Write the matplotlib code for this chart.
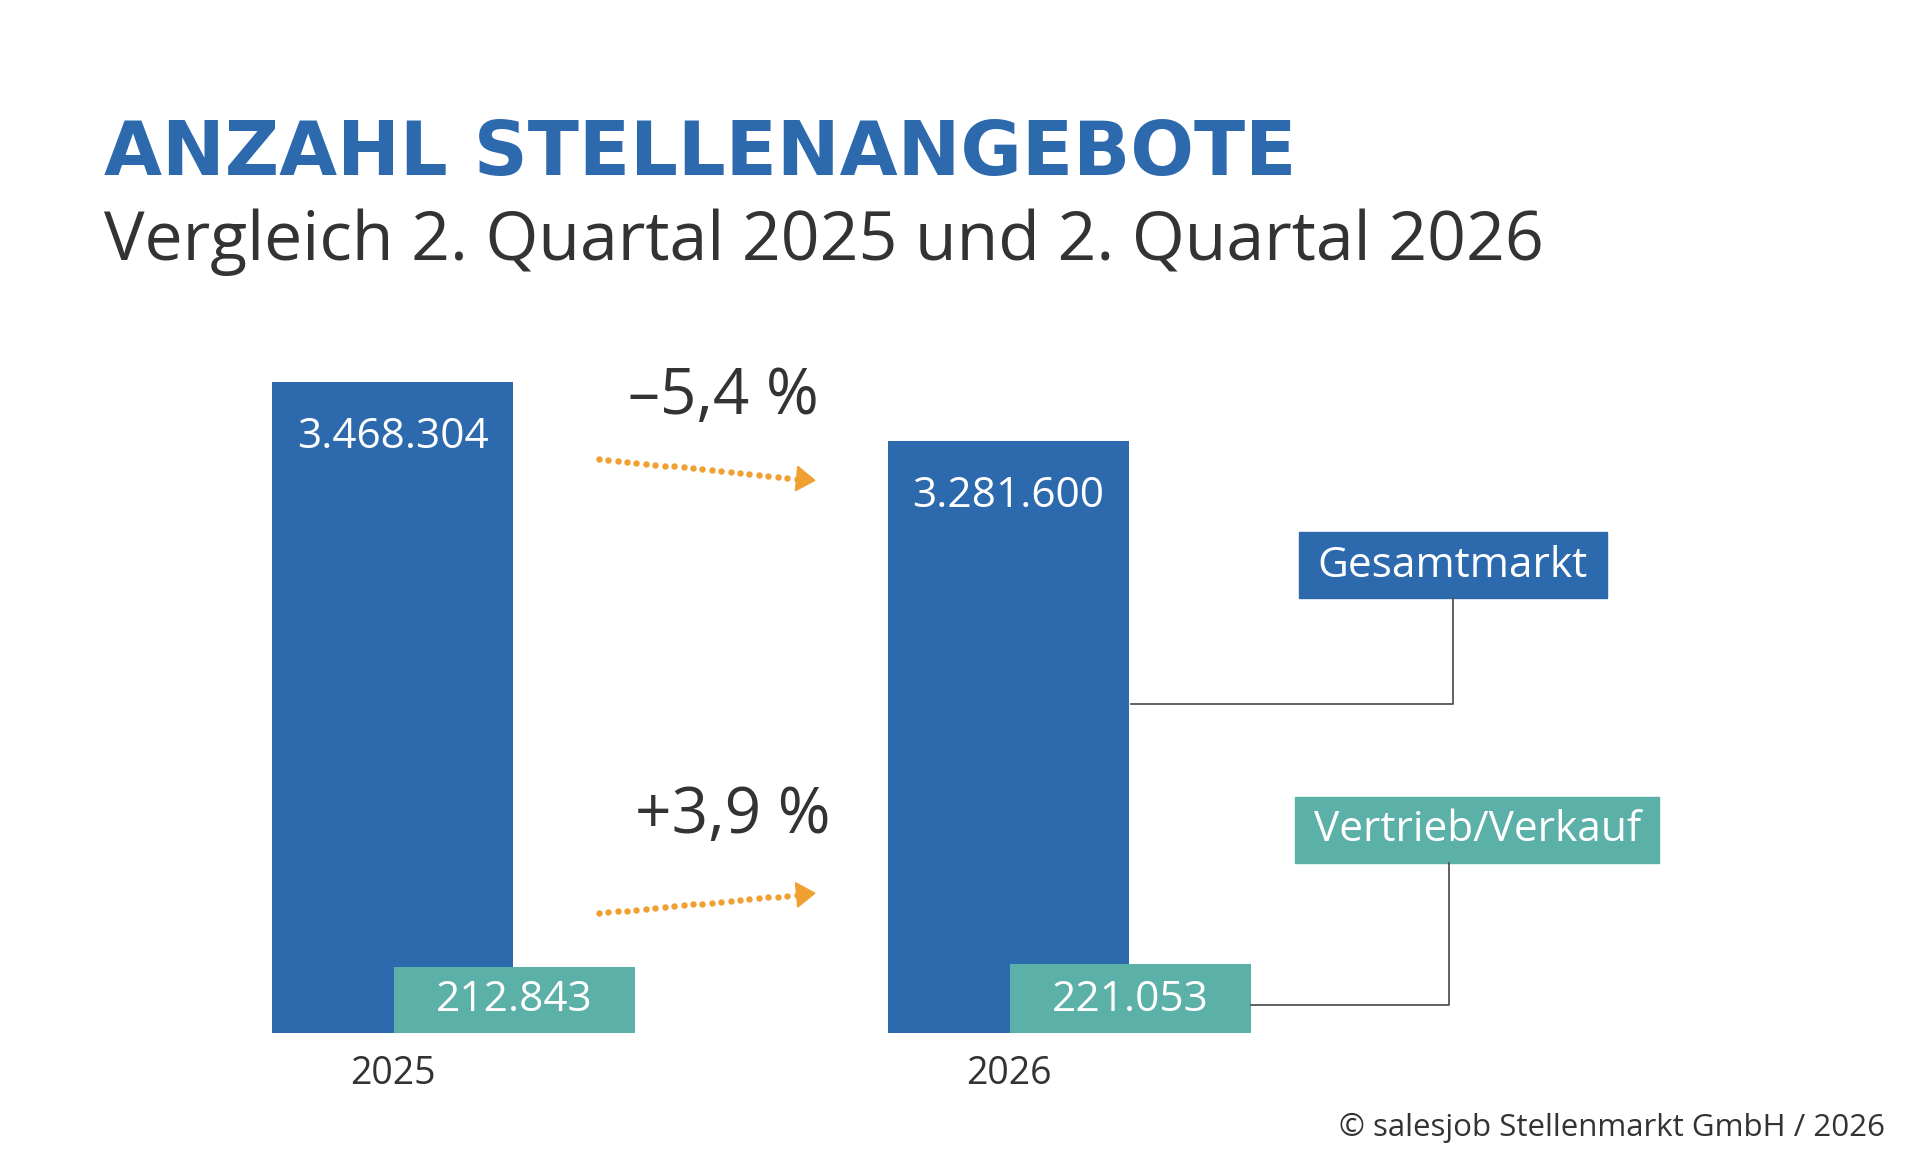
import matplotlib
matplotlib.use("Agg")
import matplotlib.pyplot as plt
from matplotlib.patches import Rectangle, Polygon
import numpy as np

years = ["2025", "2026"]
gesamt = [3468304, 3281600]
vertrieb = [212843, 221053]
gesamt_labels = ["3.468.304", "3.281.600"]
vertrieb_labels = ["212.843", "221.053"]
changes = ["\u20135,4 %", "+3,9 %"]

BLUE = "#2d6aad"; GREEN = "#5bb0a8"; ORANGE = "#f0a030"; DARK = "#333333"
FONT = "Open Sans"
W, H = 1560, 960
fig = plt.figure(figsize=(19.06, 11.72), dpi=100)
fx = lambda x: x / W
fy = lambda y: 1 - y / H

base = 1.393e6
axb = fig.add_axes([0, fy(846), 1, (846 - 313) / H])
axb.set_xlim(0, W); axb.set_ylim(base, gesamt[0]); axb.axis("off")
bx = [321.5, 825.5]
axb.bar(bx, [g - base for g in gesamt], bottom=base, width=197, color=BLUE)
axg = fig.add_axes([0, fy(846), 1, (846 - 790) / H])
axg.set_xlim(0, W); axg.set_ylim(0, max(vertrieb)); axg.axis("off")
gx = [421, 925]
axg.bar(gx, vertrieb, width=197, color=GREEN)

tops = [313, 361]
for i in range(2):
    fig.text(fx(bx[i]), fy(tops[i] + 45), gesamt_labels[i], color="white", fontsize=30.5,
             family=FONT, ha="center", va="center")
    fig.text(fx(gx[i]), fy(819), vertrieb_labels[i], color="white", fontsize=30.5,
             family=FONT, ha="center", va="center")
    fig.text(fx(bx[i]), fy(880), years[i], color=DARK, fontsize=27, family=FONT,
             ha="center", va="center")

fig.text(fx(85), fy(143), "ANZAHL STELLENANGEBOTE", color=BLUE, fontsize=54,
         family="DejaVu Sans", weight="bold", ha="left", va="baseline")
fig.text(fx(85), fy(213), "Vergleich 2. Quartal 2025 und 2. Quartal 2026", color=DARK,
         fontsize=49, family=FONT, ha="left", va="baseline")

fig.text(fx(592), fy(325), changes[0], color=DARK, fontsize=46, family=FONT, ha="center", va="center")
fig.text(fx(600), fy(668), changes[1], color=DARK, fontsize=46, family=FONT, ha="center", va="center")
for (x0, y0, x1, y1) in [(490, 376, 652, 392), (490, 748, 652, 733)]:
    t = np.linspace(0, 1, 22)
    fig.add_artist(plt.Line2D(fx(x0 + (x1 - x0) * t), fy(y0 + (y1 - y0) * t), ls="none",
                              marker="o", ms=3.6, color=ORANGE, transform=fig.transFigure))
    d = np.array([x1 - x0, y1 - y0], float); d /= np.hypot(*d); n = np.array([-d[1], d[0]])
    tip = np.array([x1, y1]) + d * 15
    pts = [tip, np.array([x1, y1]) + n * 10, np.array([x1, y1]) - n * 10]
    fig.add_artist(Polygon([(fx(p[0]), fy(p[1])) for p in pts], color=ORANGE, transform=fig.transFigure))

fig.add_artist(plt.Line2D([fx(926), fx(1189), fx(1189)], [fy(577), fy(577), fy(490)], color="#555555", lw=1.3))
fig.add_artist(plt.Line2D([fx(1024), fx(1186), fx(1186)], [fy(823), fy(823), fy(707)], color="#555555", lw=1.3))
fig.add_artist(Rectangle((fx(1063), fy(490)), fx(1315 - 1063), (490 - 436) / H, color=BLUE, transform=fig.transFigure))
fig.add_artist(Rectangle((fx(1060), fy(707)), fx(1358 - 1060), (707 - 653) / H, color=GREEN, transform=fig.transFigure))
fig.text(fx(1189), fy(464), "Gesamtmarkt", color="white", fontsize=30.5, family=FONT, ha="center", va="center")
fig.text(fx(1209), fy(680), "Vertrieb/Verkauf", color="white", fontsize=30.5, family=FONT, ha="center", va="center")

fig.text(fx(1543), fy(924), "\u00a9 salesjob Stellenmarkt GmbH / 2026", color=DARK, fontsize=22.5,
         family=FONT, ha="right", va="center")
fig.savefig("out.png", dpi=100, facecolor="white")
